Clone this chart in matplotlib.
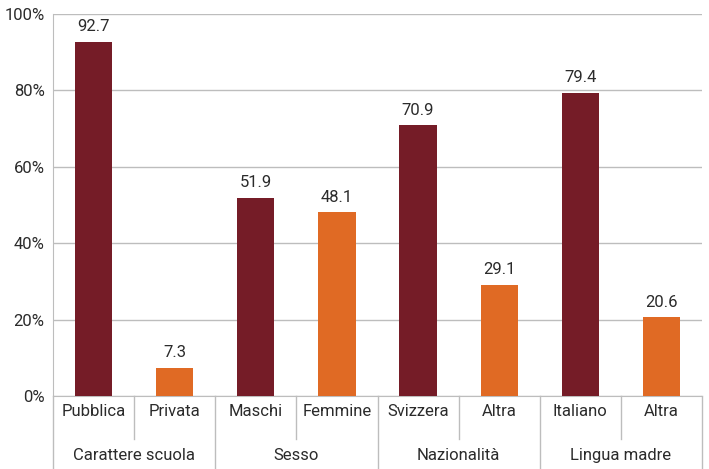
import matplotlib
matplotlib.use("Agg")
import matplotlib.pyplot as plt
from matplotlib.transforms import blended_transform_factory

categories = ["Pubblica", "Privata", "Maschi", "Femmine", "Svizzera", "Altra", "Italiano", "Altra"]
groups = ["Carattere scuola", "Sesso", "Nazionalità", "Lingua madre"]
values = [92.7, 7.3, 51.9, 48.1, 70.9, 29.1, 79.4, 20.6]
yticks = [0, 20, 40, 60, 80, 100]
ytick_labels = ["0%", "20%", "40%", "60%", "80%", "100%"]

dark = "#751C27"
orange = "#E06A24"
colors = [dark if i % 2 == 0 else orange for i in range(len(values))]
grid_c = "#BDBDBD"
text_c = "#2b2b2b"

plt.rcParams['font.family'] = ['Liberation Sans Narrow', 'Roboto', 'DejaVu Sans']

fig = plt.figure(figsize=(7.09, 4.69), dpi=100)
W, H = 709, 469
ax = fig.add_axes([53 / W, (H - 396) / H, (702 - 53) / W, (396 - 14) / H])

x = list(range(len(values)))
ax.bar(x, values, width=0.46, color=colors, zorder=3)
for xi, v in zip(x, values):
    ax.text(xi, v + 2.0, f"{v:.1f}", ha="center", va="bottom", fontsize=12, color=text_c)

ax.set_xlim(-0.5, len(values) - 0.5)
ax.set_ylim(0, 100)
ax.set_yticks(yticks)
ax.set_yticklabels(ytick_labels, fontsize=12, color=text_c)
ax.tick_params(axis="y", length=0, pad=6)
ax.set_xticks([])
ax.yaxis.grid(True, color=grid_c, linewidth=1, zorder=0)
for s in ["top", "right"]:
    ax.spines[s].set_visible(False)
ax.spines["left"].set_color(grid_c)
ax.spines["bottom"].set_color(grid_c)
ax.spines["left"].set_bounds(0, 100)

trans = blended_transform_factory(ax.transData, fig.transFigure)
y0 = (H - 396) / H
y_inner = (H - 439) / H
for xi, c in zip(x, categories):
    ax.text(xi, (H - 411) / H, c, transform=trans, ha="center", va="center",
            fontsize=12, color=text_c)
for gi, g in enumerate(groups):
    ax.text(2 * gi + 0.5, (H - 455) / H, g, transform=trans, ha="center", va="center",
            fontsize=12, color=text_c)
# separators
for gi in range(len(groups) + 1):
    xs = 2 * gi - 0.5
    ax.plot([xs, xs], [y0, 0], transform=trans, color=grid_c, lw=1, clip_on=False)
for gi in range(len(groups)):
    xs = 2 * gi + 0.5
    ax.plot([xs, xs], [y0, y_inner], transform=trans, color=grid_c, lw=1, clip_on=False)

fig.savefig("out.png", dpi=100)
